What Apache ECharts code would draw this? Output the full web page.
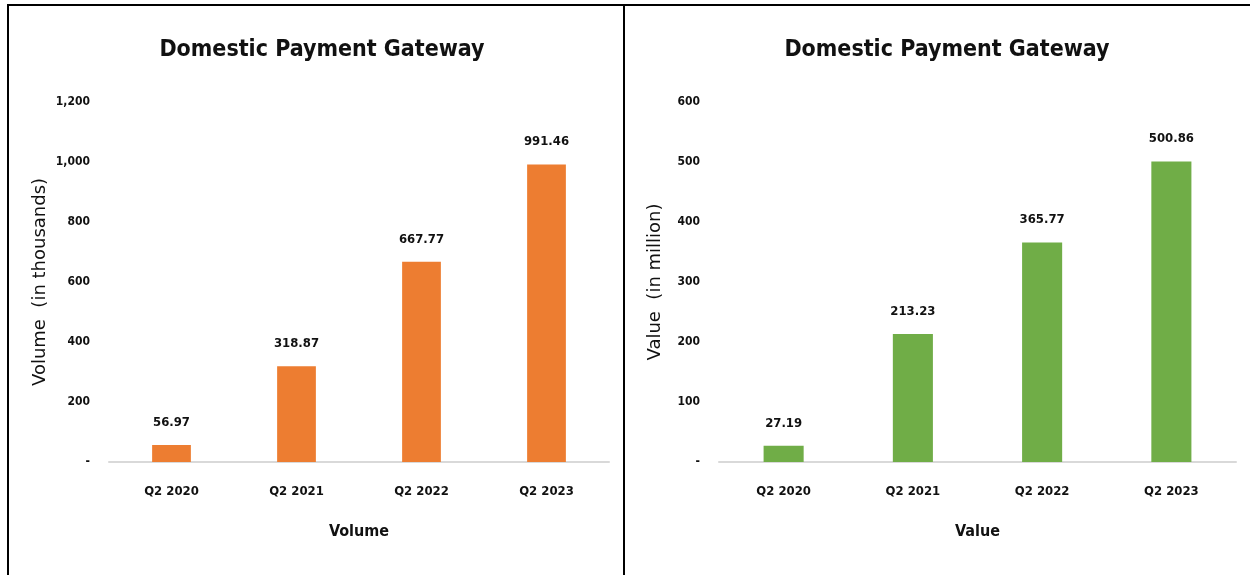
<!DOCTYPE html>
<html>
<head>
<meta charset="utf-8">
<script src="https://cdn.jsdelivr.net/npm/echarts@6/dist/echarts.min.js"></script>
<style>
  html, body { margin: 0; padding: 0; background: #fff; }
  #chart { width: 1250px; height: 575px; }
</style>
</head>
<body>
<div id="chart"></div>
<script>
const categories = ['Q2 2020', 'Q2 2021', 'Q2 2022', 'Q2 2023'];
const volumeValues = [56.97, 318.87, 667.77, 991.46];
const valueValues = [27.19, 213.23, 365.77, 500.86];
const chartTitle = 'Domestic Payment Gateway';
const volumeAxisName = 'Volume  (in thousands)';
const valueAxisName = 'Value  (in million)';
const volumeXName = 'Volume';
const valueXName = 'Value';

const NARROW = '"Liberation Sans Narrow", "DejaVu Sans Condensed", "Open Sans", sans-serif';
const WIDE = '"DejaVu Sans", Verdana, sans-serif';

function fmtTick(v) {
  if (v === 0) return '-';
  return v.toLocaleString('en-US');
}

function xAxisCfg(gridIndex, name) {
  return {
    type: 'category', gridIndex, data: categories,
    name, nameLocation: 'middle', nameGap: 62,
    nameTextStyle: { fontFamily: NARROW, fontSize: 16, fontWeight: 'bold', color: '#111' },
    axisLine: { lineStyle: { color: '#d9d9d9', width: 2 } },
    axisTick: { show: false },
    axisLabel: { margin: 23, fontFamily: NARROW, fontSize: 13, fontWeight: 'bold', color: '#111' }
  };
}
function yAxisCfg(gridIndex, name, max, interval, gap) {
  return {
    type: 'value', gridIndex, min: 0, max, interval,
    name, nameLocation: 'middle', nameGap: gap, nameRotate: 90,
    nameTextStyle: { fontFamily: WIDE, fontSize: 18, color: '#111' },
    splitLine: { show: false },
    axisLine: { show: false }, axisTick: { show: false },
    axisLabel: { margin: 19, formatter: fmtTick, fontFamily: NARROW, fontSize: 12, fontWeight: 'bold', color: '#111' }
  };
}
function barCfg(idx, data, color) {
  return {
    type: 'bar', xAxisIndex: idx, yAxisIndex: idx, data,
    barWidth: '31%',
    itemStyle: { color },
    label: {
      show: true, position: 'top', distance: 16,
      formatter: p => p.value.toFixed(2),
      fontFamily: NARROW, fontSize: 13, fontWeight: 'bold', color: '#111'
    }
  };
}

const chart = echarts.init(document.getElementById('chart'), null, { renderer: 'canvas' });
chart.setOption({
  animation: false,
  backgroundColor: '#fff',
  title: [
    { text: chartTitle, left: 317, top: 34, textAlign: 'center',
      textStyle: { fontFamily: NARROW, fontSize: 23, fontWeight: 'bold', color: '#111' } },
    { text: chartTitle, left: 942, top: 34, textAlign: 'center',
      textStyle: { fontFamily: NARROW, fontSize: 23, fontWeight: 'bold', color: '#111' } }
  ],
  grid: [
    { left: 109, top: 102, width: 500, height: 360 },
    { left: 719, top: 102, width: 517, height: 360 }
  ],
  xAxis: [xAxisCfg(0, volumeXName), xAxisCfg(1, valueXName)],
  yAxis: [yAxisCfg(0, volumeAxisName, 1200, 200, 60), yAxisCfg(1, valueAxisName, 600, 100, 55)],
  series: [barCfg(0, volumeValues, '#ED7D31'), barCfg(1, valueValues, '#70AD47')],
  graphic: [
    { type: 'line', shape: { x1: 7, y1: 5, x2: 1250, y2: 5 }, style: { stroke: '#000', lineWidth: 2 } },
    { type: 'line', shape: { x1: 8, y1: 4, x2: 8, y2: 575 }, style: { stroke: '#000', lineWidth: 2 } },
    { type: 'line', shape: { x1: 624, y1: 4, x2: 624, y2: 575 }, style: { stroke: '#000', lineWidth: 2 } }
  ]
});
</script>
</body>
</html>
